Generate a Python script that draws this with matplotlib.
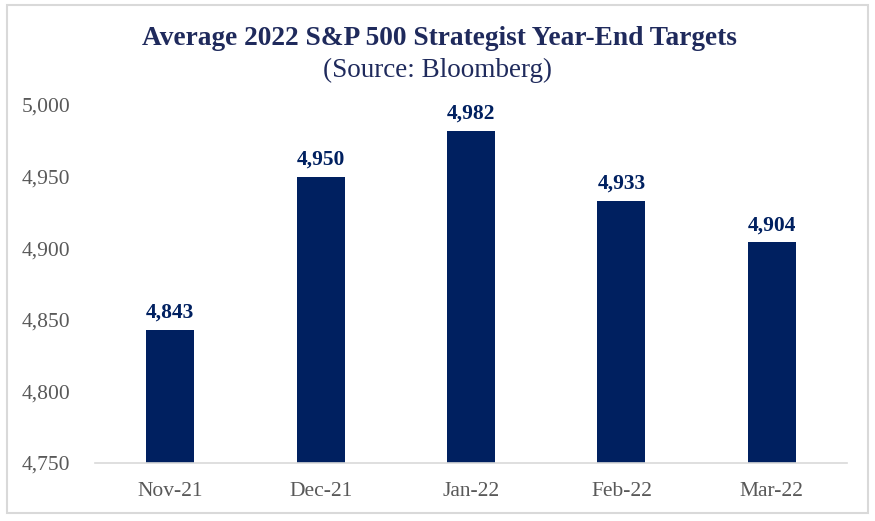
import matplotlib
matplotlib.use("Agg")
from matplotlib import pyplot as plt
from matplotlib.patches import Rectangle

months = ["Nov-21", "Dec-21", "Jan-22", "Feb-22", "Mar-22"]
targets = [4843, 4950, 4982, 4933, 4904]

navy = "#002060"
grey_txt = "#595959"

plt.rcParams['font.family'] = ['Liberation Serif', 'DejaVu Serif']

fig = plt.figure(figsize=(8.75, 5.21), dpi=100)
ax = fig.add_axes([0.1086, 0.1113, 0.8594, 0.6872])

x = range(len(months))
ax.bar(x, targets, width=0.32, color=navy, zorder=2)
for i, v in zip(x, targets):
    ax.text(i, v + 5, f"{v:,}", ha="center", va="bottom",
            fontsize=15.5, fontweight="bold", color=navy)

ax.set_ylim(4750, 5000)
ax.set_xlim(-0.5, len(months) - 0.5)
ax.set_yticks(range(4750, 5001, 50))
ax.set_yticklabels([f"{t:,}" for t in range(4750, 5001, 50)])
ax.set_xticks(list(x))
ax.set_xticklabels(months)
ax.tick_params(axis="both", length=0, labelsize=15.5, colors=grey_txt)
ax.tick_params(axis="x", pad=14)
ax.tick_params(axis="y", pad=18)
for s in ["top", "right", "left"]:
    ax.spines[s].set_visible(False)
ax.spines["bottom"].set_color("#d9d9d9")
ax.spines["bottom"].set_linewidth(1.2)

fig.text(0.502, 0.927, "Average 2022 S&P 500 Strategist Year-End Targets",
         ha="center", va="center", fontsize=19.7, fontweight="bold", color="#1f2a5c")
fig.text(0.5, 0.864, "(Source: Bloomberg)", ha="center", va="center",
         fontsize=19.5, color="#1f2a5c")

fig.patches.append(Rectangle((0.008, 0.015), 0.984, 0.975, transform=fig.transFigure,
                             fill=False, edgecolor="#d9d9d9", linewidth=1.5))

fig.savefig("out.png", dpi=100)
